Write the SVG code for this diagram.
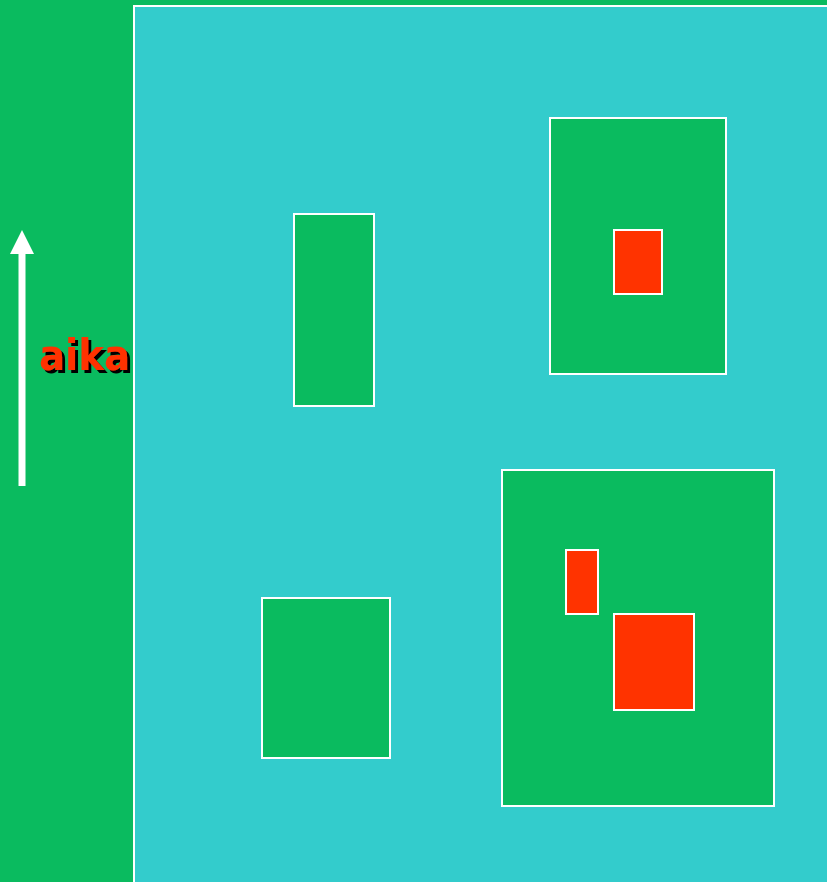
<svg xmlns="http://www.w3.org/2000/svg" width="827" height="882" viewBox="0 0 827 882">
<style>
.box{fill:#0abb5f;stroke:#fff;stroke-width:2}
.red{fill:#ff3300;stroke:#fff;stroke-width:2}
.lbl{font-family:"DejaVu Sans Condensed","DejaVu Sans",sans-serif;font-stretch:condensed;font-weight:bold;font-size:43px}
</style>
<defs>
<filter id="shadow" x="-10%" y="-20%" width="130%" height="150%">
<feOffset in="SourceAlpha" dx="3" dy="3" result="o"/>
<feMerge><feMergeNode in="o"/><feMergeNode in="SourceGraphic"/></feMerge>
</filter>
</defs>
<rect x="0" y="0" width="827" height="882" fill="#0abb5f"/>
<g id="area"><rect x="134" y="6" width="700" height="890" fill="#33cccc" stroke="#fff" stroke-width="2"/></g>
<g id="n1"><rect class="box" x="294" y="214" width="80" height="192"/></g>
<g id="n2"><rect class="box" x="550" y="118" width="176" height="256"/><rect class="red" x="614" y="230" width="48" height="64"/></g>
<g id="n3"><rect class="box" x="262" y="598" width="128" height="160"/></g>
<g id="n4"><rect class="box" x="502" y="470" width="272" height="336"/><rect class="red" x="566" y="550" width="32" height="64"/><rect class="red" x="614" y="614" width="80" height="96"/></g>
<g id="connectors">
<line x1="22" y1="486" x2="22" y2="252" stroke="#fff" stroke-width="7"/>
<polygon points="22,230 34,254 10,254" fill="#fff"/>
</g>
<g id="label">
<text class="lbl" x="39" y="370" fill="#ff3300" filter="url(#shadow)">aika</text>
</g>
</svg>
